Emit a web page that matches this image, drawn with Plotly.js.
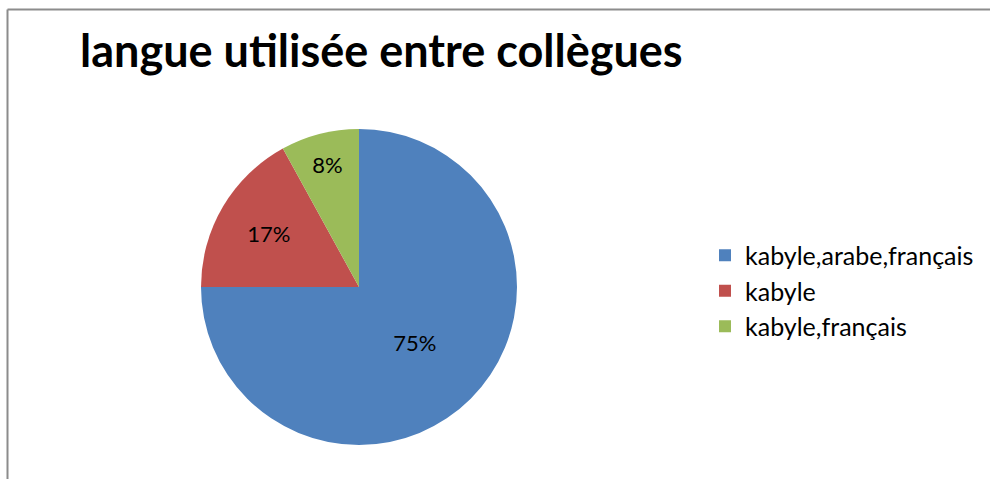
<!DOCTYPE html>
<html>
<head>
<meta charset="utf-8">
<script src="https://cdn.plot.ly/plotly-3.0.1.min.js"></script>
<style>html,body{margin:0;padding:0;background:#fff;}#chart{width:990px;height:479px;}</style>
</head>
<body>
<div id="chart"></div>
<script>
const categories = ["kabyle,arabe,français", "kabyle", "kabyle,français"];
const values = [75, 17, 8];
const colors = ["#4F81BD", "#C0504D", "#9BBB59"];
const chartTitle = "langue utilisée entre collègues";

const W = 990, H = 479;
const cx = 359, cy = 287, r = 158;

const data = [{
  type: "pie",
  labels: categories,
  values: values,
  sort: false,
  direction: "clockwise",
  rotation: 0,
  marker: {colors: colors, line: {width: 0}},
  textinfo: "percent",
  texttemplate: "%{percent:.0%}",
  textposition: "inside",
  insidetextorientation: "horizontal",
  textfont: {family: "Lato, 'Open Sans', sans-serif", size: 22, color: "#000"},
  domain: {x: [(cx - r) / W, (cx + r) / W], y: [1 - (cy + r) / H, 1 - (cy - r) / H]},
  hoverinfo: "label+percent"
}];

const layout = {
  width: W, height: H,
  margin: {l: 0, r: 0, t: 0, b: 0},
  paper_bgcolor: "#fff",
  font: {family: "Lato, 'Open Sans', sans-serif", color: "#000"},
  title: {
    text: "<b>" + chartTitle + "</b>",
    x: 80 / W, xanchor: "left", xref: "paper",
    y: 1 - 51 / H, yanchor: "middle", yref: "paper",
    font: {family: "Lato, 'Open Sans', sans-serif", size: 45, color: "#000"},
    automargin: false
  },
  showlegend: true,
  legend: {
    x: 705 / W, xanchor: "left",
    y: 1 - 291 / H, yanchor: "middle",
    font: {family: "Lato, 'Open Sans', sans-serif", size: 25, color: "#000"},
    bgcolor: "rgba(0,0,0,0)"
  },
  shapes: [
    {type: "line", xref: "paper", yref: "paper", x0: 7.5 / W, x1: 7.5 / W, y0: 0, y1: 1 - 9.5 / H, line: {color: "#8c8c8c", width: 2}},
    {type: "line", xref: "paper", yref: "paper", x0: 7.5 / W, x1: 1, y0: 1 - 9.5 / H, y1: 1 - 9.5 / H, line: {color: "#8c8c8c", width: 2}}
  ]
};

Plotly.newPlot("chart", data, layout, {displayModeBar: false, staticPlot: true});
</script>
</body>
</html>
